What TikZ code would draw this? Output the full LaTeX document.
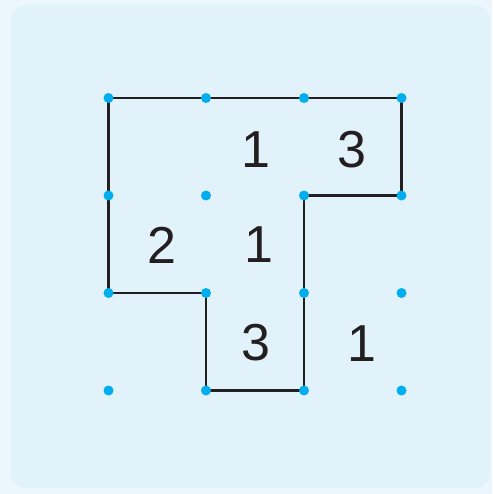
\documentclass[tikz,border=0pt]{standalone}
\usepackage{fontspec}
\setmainfont{Liberation Sans}
\definecolor{pagebg}{HTML}{EBF6FD}
\definecolor{cardbg}{HTML}{E1F2FA}
\definecolor{dotblue}{HTML}{00AEEF}
\definecolor{ink}{HTML}{231F20}
\begin{document}
\begin{tikzpicture}[x=1pt,y=-1pt,
  dot/.style={circle,fill=dotblue,inner sep=0pt,minimum size=10pt},
  edge/.style={draw=ink,line width=2.2pt,line join=miter},
  num/.style={font=\fontsize{52}{52}\selectfont,text=ink,inner sep=0pt}]
\useasboundingbox (0,0) rectangle (492,494);
\fill[pagebg] (0,0) rectangle (492,494);
\fill[cardbg,rounded corners=15pt] (11,5) rectangle (490,488);
% grid points
\foreach \i/\x in {0/108.5,1/206,2/304,3/401.5}
  \foreach \j/\y in {0/98,1/195.5,2/293,3/390.5}
    \coordinate (p\i\j) at (\x,\y);
% outline of the region
\draw[edge] (p00) -- (p30) -- (p31) -- (p21) -- (p23) -- (p13) -- (p12) -- (p02) -- cycle;
\foreach \i in {0,...,3}
  \foreach \j in {0,...,3}
    \node[dot] (d\i\j) at (p\i\j) {};
% numbers in the cells
\node[num] (n1) at (256,150) {1};
\node[num] (n2) at (351.5,150) {3};
\node[num] (n3) at (161.5,245) {2};
\node[num] (n4) at (258.5,245) {1};
\node[num] (n5) at (255.5,342.5) {3};
\node[num] (n6) at (362,343.5) {1};
\end{tikzpicture}
\end{document}
